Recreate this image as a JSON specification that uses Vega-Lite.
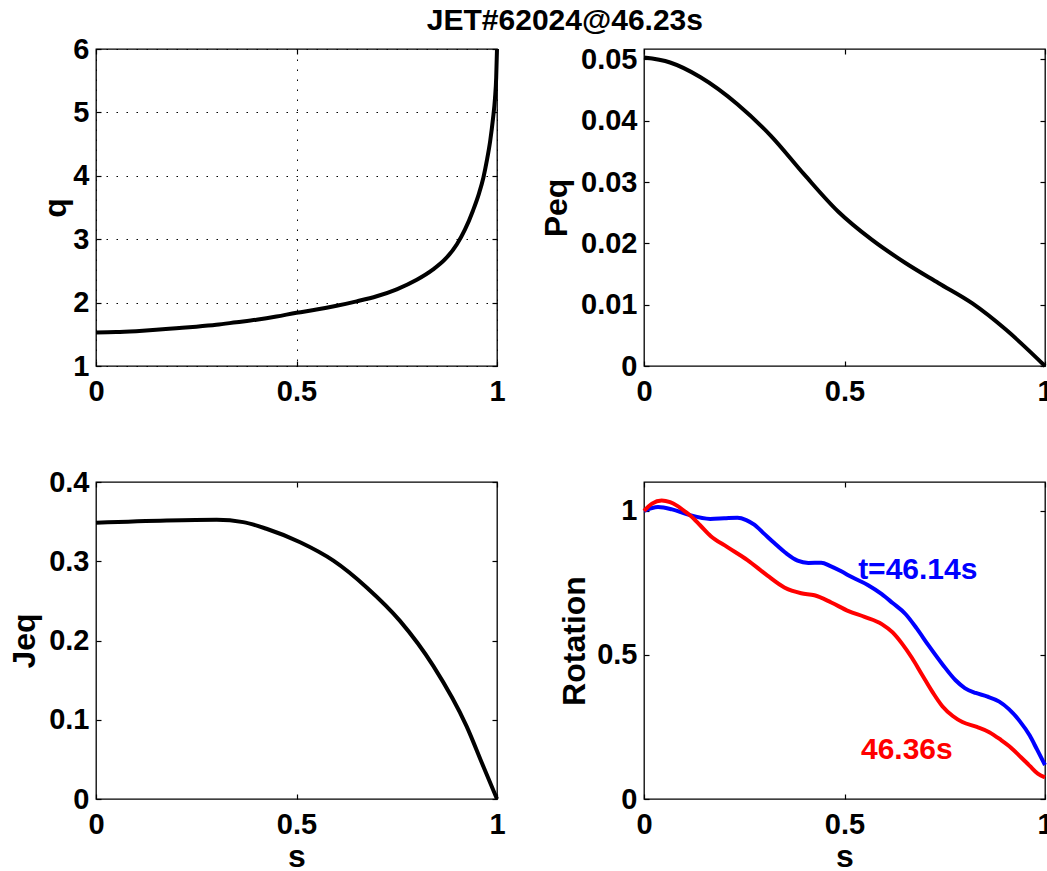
{
  "$schema": "https://vega.github.io/schema/vega-lite/v6.json",
  "background": "white",
  "padding": {"left": 8, "top": 6, "right": 0, "bottom": 0},
  "title": {"text": "JET#62024@46.23s", "anchor": "middle", "fontSize": 30, "font": "Liberation Sans", "fontWeight": "bold", "color": "black", "offset": -2, "dx": 34},
  "datasets": {
    "q": [
      {"s": 0, "q": 1.53}, {"s": 0.05, "q": 1.535}, {"s": 0.1, "q": 1.55}, {"s": 0.15, "q": 1.57}, {"s": 0.2, "q": 1.595},
      {"s": 0.25, "q": 1.62}, {"s": 0.3, "q": 1.65}, {"s": 0.35, "q": 1.69}, {"s": 0.4, "q": 1.73}, {"s": 0.45, "q": 1.78},
      {"s": 0.5, "q": 1.84}, {"s": 0.55, "q": 1.89}, {"s": 0.6, "q": 1.95}, {"s": 0.65, "q": 2.02}, {"s": 0.7, "q": 2.1},
      {"s": 0.75, "q": 2.21}, {"s": 0.8, "q": 2.36}, {"s": 0.84, "q": 2.52}, {"s": 0.87, "q": 2.68}, {"s": 0.9, "q": 2.92},
      {"s": 0.92, "q": 3.15}, {"s": 0.94, "q": 3.45}, {"s": 0.955, "q": 3.72}, {"s": 0.966, "q": 3.97}, {"s": 0.975, "q": 4.25},
      {"s": 0.983, "q": 4.55}, {"s": 0.99, "q": 4.9}, {"s": 0.995, "q": 5.22}, {"s": 0.998, "q": 5.55}, {"s": 1.0, "q": 6.0}
    ],
    "peq": [
      {"s": 0, "p": 0.0503}, {"s": 0.065, "p": 0.0495}, {"s": 0.141, "p": 0.0471}, {"s": 0.233, "p": 0.0427},
      {"s": 0.317, "p": 0.0375}, {"s": 0.4, "p": 0.0312}, {"s": 0.484, "p": 0.0252}, {"s": 0.568, "p": 0.0206},
      {"s": 0.652, "p": 0.0168}, {"s": 0.735, "p": 0.0135}, {"s": 0.819, "p": 0.0102}, {"s": 0.903, "p": 0.0059}, {"s": 1.0, "p": 0}
    ],
    "jeq": [
      {"s": 0, "j": 0.3485}, {"s": 0.176, "j": 0.3514}, {"s": 0.301, "j": 0.3523}, {"s": 0.367, "j": 0.3494},
      {"s": 0.425, "j": 0.341}, {"s": 0.509, "j": 0.324}, {"s": 0.592, "j": 0.3008}, {"s": 0.675, "j": 0.267},
      {"s": 0.758, "j": 0.2248}, {"s": 0.841, "j": 0.168}, {"s": 0.924, "j": 0.092}, {"s": 0.966, "j": 0.041}, {"s": 1.0, "j": 0}
    ],
    "rot": [
      {"s": 0, "r": 1.0, "t": "46.14"}, {"s": 0.035, "r": 1.013, "t": "46.14"}, {"s": 0.07, "r": 1.005, "t": "46.14"},
      {"s": 0.11, "r": 0.987, "t": "46.14"}, {"s": 0.165, "r": 0.972, "t": "46.14"}, {"s": 0.2, "r": 0.974, "t": "46.14"},
      {"s": 0.233, "r": 0.976, "t": "46.14"}, {"s": 0.255, "r": 0.968, "t": "46.14"}, {"s": 0.275, "r": 0.952, "t": "46.14"},
      {"s": 0.3, "r": 0.92, "t": "46.14"}, {"s": 0.325, "r": 0.888, "t": "46.14"}, {"s": 0.355, "r": 0.852, "t": "46.14"},
      {"s": 0.383, "r": 0.827, "t": "46.14"}, {"s": 0.41, "r": 0.819, "t": "46.14"}, {"s": 0.442, "r": 0.82, "t": "46.14"},
      {"s": 0.465, "r": 0.808, "t": "46.14"}, {"s": 0.492, "r": 0.79, "t": "46.14"}, {"s": 0.518, "r": 0.77, "t": "46.14"},
      {"s": 0.559, "r": 0.742, "t": "46.14"}, {"s": 0.593, "r": 0.711, "t": "46.14"}, {"s": 0.62, "r": 0.68, "t": "46.14"},
      {"s": 0.652, "r": 0.642, "t": "46.14"}, {"s": 0.68, "r": 0.592, "t": "46.14"}, {"s": 0.71, "r": 0.532, "t": "46.14"},
      {"s": 0.745, "r": 0.466, "t": "46.14"}, {"s": 0.777, "r": 0.412, "t": "46.14"}, {"s": 0.8, "r": 0.385, "t": "46.14"},
      {"s": 0.827, "r": 0.368, "t": "46.14"}, {"s": 0.855, "r": 0.356, "t": "46.14"}, {"s": 0.886, "r": 0.338, "t": "46.14"},
      {"s": 0.91, "r": 0.312, "t": "46.14"}, {"s": 0.936, "r": 0.272, "t": "46.14"}, {"s": 0.962, "r": 0.22, "t": "46.14"},
      {"s": 0.98, "r": 0.172, "t": "46.14"}, {"s": 1.0, "r": 0.118, "t": "46.14"},
      {"s": 0, "r": 1.0, "t": "46.36"}, {"s": 0.02, "r": 1.025, "t": "46.36"}, {"s": 0.044, "r": 1.036, "t": "46.36"},
      {"s": 0.065, "r": 1.03, "t": "46.36"}, {"s": 0.082, "r": 1.018, "t": "46.36"}, {"s": 0.1, "r": 1.0, "t": "46.36"},
      {"s": 0.116, "r": 0.983, "t": "46.36"}, {"s": 0.14, "r": 0.95, "t": "46.36"}, {"s": 0.166, "r": 0.913, "t": "46.36"},
      {"s": 0.208, "r": 0.874, "t": "46.36"}, {"s": 0.258, "r": 0.829, "t": "46.36"}, {"s": 0.308, "r": 0.775, "t": "46.36"},
      {"s": 0.35, "r": 0.734, "t": "46.36"}, {"s": 0.392, "r": 0.714, "t": "46.36"}, {"s": 0.425, "r": 0.707, "t": "46.36"},
      {"s": 0.467, "r": 0.682, "t": "46.36"}, {"s": 0.51, "r": 0.652, "t": "46.36"}, {"s": 0.55, "r": 0.632, "t": "46.36"},
      {"s": 0.593, "r": 0.607, "t": "46.36"}, {"s": 0.62, "r": 0.578, "t": "46.36"}, {"s": 0.643, "r": 0.54, "t": "46.36"},
      {"s": 0.668, "r": 0.49, "t": "46.36"}, {"s": 0.693, "r": 0.432, "t": "46.36"}, {"s": 0.72, "r": 0.37, "t": "46.36"},
      {"s": 0.744, "r": 0.322, "t": "46.36"}, {"s": 0.77, "r": 0.288, "t": "46.36"}, {"s": 0.794, "r": 0.267, "t": "46.36"},
      {"s": 0.83, "r": 0.25, "t": "46.36"}, {"s": 0.861, "r": 0.232, "t": "46.36"}, {"s": 0.89, "r": 0.205, "t": "46.36"},
      {"s": 0.911, "r": 0.183, "t": "46.36"}, {"s": 0.94, "r": 0.145, "t": "46.36"}, {"s": 0.962, "r": 0.115, "t": "46.36"},
      {"s": 0.982, "r": 0.088, "t": "46.36"}, {"s": 1.0, "r": 0.075, "t": "46.36"}
    ],
    "rotlab": [
      {"s": 0.534, "r": 0.765, "t": "46.14", "label": "t=46.14s"},
      {"s": 0.541, "r": 0.139, "t": "46.36", "label": "46.36s"}
    ]
  },
  "columns": 2,
  "spacing": {"row": 116, "column": 147},
  "bounds": "flush",
  "concat": [
    {
      "width": 401, "height": 317,
      "data": {"name": "q"},
      "layer": [
        {
          "mark": {"type": "line", "color": "black", "strokeWidth": 4, "interpolate": "monotone"},
          "encoding": {
            "x": {"field": "s", "type": "quantitative", "scale": {"domain": [0, 1], "nice": false}, "axis": {"values": [0, 0.5, 1], "title": null, "grid": true, "labelPadding": 16}},
            "y": {"field": "q", "type": "quantitative", "scale": {"domain": [1, 6], "nice": false, "zero": false}, "axis": {"values": [1, 2, 3, 4, 5, 6], "title": "q", "grid": true, "titlePadding": 0}}
          }
        },
        {
          "mark": {"type": "line", "opacity": 0},
          "encoding": {
            "x": {"field": "s", "type": "quantitative", "axis": {"orient": "top", "labels": false, "values": [0, 0.5, 1], "title": null}},
            "y": {"field": "q", "type": "quantitative", "axis": {"orient": "right", "labels": false, "values": [1, 2, 3, 4, 5, 6], "title": null}}
          }
        }
      ],
      "resolve": {"axis": {"x": "independent", "y": "independent"}}
    },
    {
      "width": 401, "height": 317,
      "data": {"name": "peq"},
      "layer": [
        {
          "mark": {"type": "line", "color": "black", "strokeWidth": 4, "interpolate": "monotone"},
          "encoding": {
            "x": {"field": "s", "type": "quantitative", "scale": {"domain": [0, 1], "nice": false}, "axis": {"values": [0, 0.5, 1], "title": null, "labelPadding": 16}},
            "y": {"field": "p", "type": "quantitative", "scale": {"domain": [0, 0.0517], "nice": false}, "axis": {"values": [0, 0.01, 0.02, 0.03, 0.04, 0.05], "title": "Peq", "titlePadding": 7}}
          }
        },
        {
          "mark": {"type": "line", "opacity": 0},
          "encoding": {
            "x": {"field": "s", "type": "quantitative", "axis": {"orient": "top", "labels": false, "values": [0, 0.5, 1], "title": null}},
            "y": {"field": "p", "type": "quantitative", "axis": {"orient": "right", "labels": false, "values": [0, 0.01, 0.02, 0.03, 0.04, 0.05], "title": null}}
          }
        }
      ],
      "resolve": {"axis": {"x": "independent", "y": "independent"}}
    },
    {
      "width": 401, "height": 317,
      "data": {"name": "jeq"},
      "layer": [
        {
          "mark": {"type": "line", "color": "black", "strokeWidth": 4, "interpolate": "monotone"},
          "encoding": {
            "x": {"field": "s", "type": "quantitative", "scale": {"domain": [0, 1], "nice": false}, "axis": {"values": [0, 0.5, 1], "title": "s", "labelPadding": 16, "titlePadding": 2}},
            "y": {"field": "j", "type": "quantitative", "scale": {"domain": [0, 0.4], "nice": false}, "axis": {"values": [0, 0.1, 0.2, 0.3, 0.4], "title": "Jeq", "titlePadding": 7}}
          }
        },
        {
          "mark": {"type": "line", "opacity": 0},
          "encoding": {
            "x": {"field": "s", "type": "quantitative", "axis": {"orient": "top", "labels": false, "values": [0, 0.5, 1], "title": null}},
            "y": {"field": "j", "type": "quantitative", "axis": {"orient": "right", "labels": false, "values": [0, 0.1, 0.2, 0.3, 0.4], "title": null}}
          }
        }
      ],
      "resolve": {"axis": {"x": "independent", "y": "independent"}}
    },
    {
      "width": 401, "height": 317,
      "layer": [
        {
          "data": {"name": "rot"},
          "mark": {"type": "line", "strokeWidth": 4, "interpolate": "monotone"},
          "encoding": {
            "x": {"field": "s", "type": "quantitative", "scale": {"domain": [0, 1], "nice": false}, "axis": {"values": [0, 0.5, 1], "title": "s", "labelPadding": 16, "titlePadding": 2}},
            "y": {"field": "r", "type": "quantitative", "scale": {"domain": [0, 1.1], "nice": false}, "axis": {"values": [0, 0.5, 1], "title": "Rotation", "titlePadding": 5}},
            "color": {"field": "t", "type": "nominal", "scale": {"domain": ["46.14", "46.36"], "range": ["#0000ff", "#ff0000"]}, "legend": null}
          }
        },
        {
          "data": {"name": "rot"},
          "mark": {"type": "line", "opacity": 0},
          "encoding": {
            "x": {"field": "s", "type": "quantitative", "axis": {"orient": "top", "labels": false, "values": [0, 0.5, 1], "title": null}},
            "y": {"field": "r", "type": "quantitative", "axis": {"orient": "right", "labels": false, "values": [0, 0.5, 1], "title": null}}
          }
        },
        {
          "data": {"name": "rotlab"},
          "mark": {"type": "text", "align": "left", "baseline": "alphabetic", "font": "Liberation Sans", "fontWeight": "bold", "fontSize": 30},
          "encoding": {
            "x": {"field": "s", "type": "quantitative", "axis": null},
            "y": {"field": "r", "type": "quantitative", "axis": null},
            "text": {"field": "label"},
            "color": {"field": "t", "type": "nominal", "legend": null}
          }
        }
      ],
      "resolve": {"axis": {"x": "independent", "y": "independent"}}
    }
  ],
  "config": {
    "view": {"stroke": "black", "strokeWidth": 1.3},
    "axis": {
      "domain": false,
      "ticks": true,
      "tickSize": -5,
      "tickColor": "black",
      "tickWidth": 1.2,
      "labelFont": "Liberation Sans",
      "labelFontWeight": "bold",
      "labelFontSize": 29,
      "labelColor": "black",
      "labelFlush": false,
      "labelOverlap": false,
      "labelPadding": 12,
      "format": "~g",
      "titleFont": "Liberation Sans",
      "titleFontWeight": "bold",
      "titleFontSize": 32,
      "titleColor": "black",
      "titlePadding": 8,
      "grid": false,
      "gridColor": "black",
      "gridOpacity": 1,
      "gridWidth": 1,
      "gridDash": [1.5, 8.5]
    }
  }
}
